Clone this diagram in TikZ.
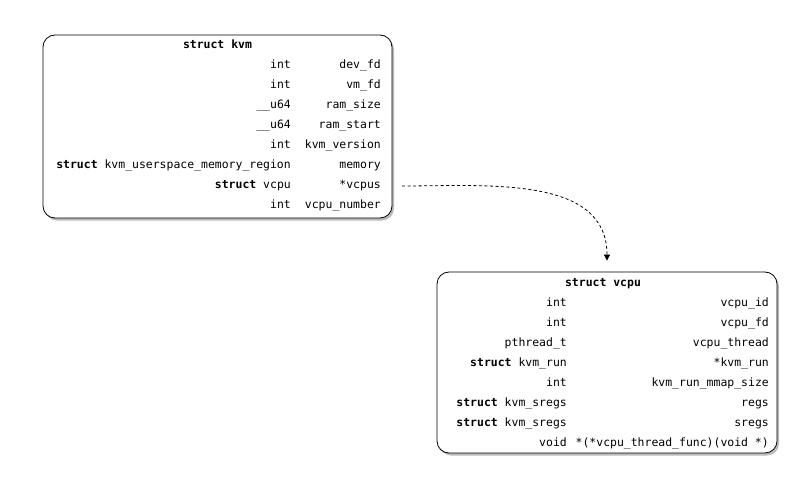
\documentclass[tikz,border=0pt]{standalone}
\usepackage{fontspec}
\setmonofont{DejaVu Sans Mono}
\usetikzlibrary{positioning,shadows,arrows.meta}

\begin{document}
\begin{tikzpicture}[
  x=1bp, y=-1bp,
  font=\ttfamily\fontsize{11.5}{13}\selectfont,
  structbox/.style={draw, line width=0.8bp, rounded corners=12bp, fill=white,
    drop shadow={shadow xshift=2bp, shadow yshift=-2.5bp, opacity=0.45, fill=black!60}},
  field/.style={anchor=east, inner sep=0pt, text height=1.6ex, text depth=0.45ex},
  title/.style={inner sep=0pt, font=\ttfamily\bfseries\fontsize{11.5}{13}\selectfont,
    text height=1.6ex, text depth=0.45ex},
  ptr/.style={-{Triangle[length=6bp,width=6bp]}, line width=0.8bp, dash pattern=on 3bp off 2.5bp},
]
\useasboundingbox (0,0) rectangle (804,498);

% struct kvm
\node[structbox, minimum width=349bp, minimum height=183bp] (kvm) at (217.5,126.5) {};
\node[title] (kvmtitle) at (217.5,46) {struct kvm};
\foreach \type/\name [count=\i] in {int/dev\_fd, int/vm\_fd, \_\_u64/ram\_size,
    \_\_u64/ram\_start, int/kvm\_version,
    {\textbf{struct} kvm\_userspace\_memory\_region}/memory,
    {\textbf{struct} vcpu}/*vcpus, int/vcpu\_number}
  {\node[field] (kvmt\i) at (291,46+20*\i) {\type};
   \node[field] (kvmn\i) at (381,46+20*\i) {\name};}

% struct vcpu
\node[structbox, minimum width=340bp, minimum height=181bp] (vcpu) at (607,362.5) {};
\node[title] (vcputitle) at (603,284) {struct vcpu};
\foreach \type/\name [count=\i] in {int/vcpu\_id, int/vcpu\_fd, pthread\_t/vcpu\_thread,
    {\textbf{struct} kvm\_run}/*kvm\_run, int/kvm\_run\_mmap\_size,
    {\textbf{struct} kvm\_sregs}/regs, {\textbf{struct} kvm\_sregs}/sregs,
    void/{*(*vcpu\_thread\_func)(void *)}}
  {\node[field] (vcput\i) at (567,284+20*\i) {\type};
   \node[field] (vcpun\i) at (769,284+20*\i) {\name};}

% pointer
\draw[ptr] ([xshift=21bp]kvmn7.east) to[out=0, in=90] ([yshift=11bp]vcpu.north);

\end{tikzpicture}
\end{document}
